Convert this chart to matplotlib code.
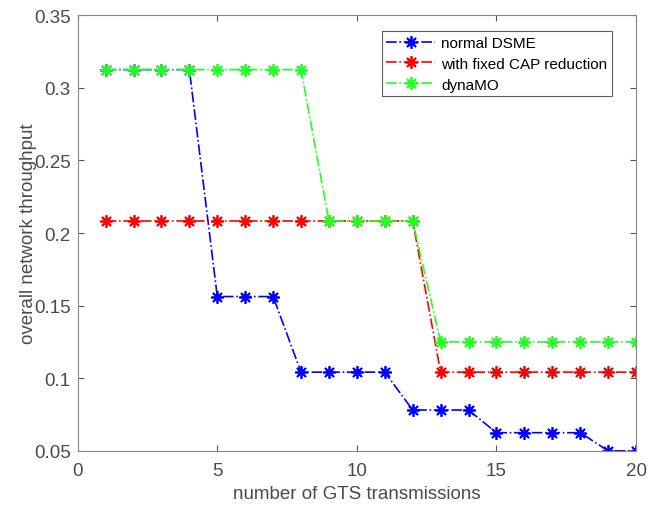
import numpy as np
import matplotlib
matplotlib.use('Agg')
import matplotlib.pyplot as plt

plt.rcParams['font.family'] = ['Liberation Sans', 'DejaVu Sans']

# 数据
gts = list(range(1, 21))
normal_dsme = [0.3125] * 4 + [0.15625] * 3 + [0.1042] * 4 + [0.078125] * 3 + [0.0625] * 4 + [0.05] * 2
fixed_cap = [0.2083] * 12 + [0.1042] * 8
dynamo = [0.3125] * 8 + [0.2083] * 4 + [0.125] * 8

series_names = ['normal DSME', 'with fixed CAP reduction', 'dynaMO']
series_colors = ['#0000ff', '#ff0000', '#22ff22']

fig = plt.figure(figsize=(6.53, 5.06), dpi=100)
ax = fig.add_axes([0.119, 0.107, 0.855, 0.861])

for vals, name, c in zip([normal_dsme, fixed_cap, dynamo], series_names, series_colors):
    ax.plot(gts, vals, linestyle='-.', color=c, marker=(8, 2, 0), markersize=9,
            markeredgewidth=1.3, linewidth=1.2, label=name)

ax.set_xlim(0, 20)
ax.set_ylim(0.05, 0.35)
ax.set_xticks([0, 5, 10, 15, 20])
ax.set_yticks([0.05, 0.1, 0.15, 0.2, 0.25, 0.3, 0.35])
ax.set_yticklabels(['0.05', '0.1', '0.15', '0.2', '0.25', '0.3', '0.35'])
ax.tick_params(direction='in', top=True, right=True, labelsize=13.5,
               colors='#555555', labelcolor='#4a4a4a', length=4, pad=5)
ax.tick_params(axis='x', pad=8)
for s in ax.spines.values():
    s.set_color('#888888')
    s.set_linewidth(0.8)

ax.set_xlabel('number of GTS transmissions', fontsize=13.5, color='#4a4a4a', labelpad=4)
ax.set_ylabel('overall network throughput', fontsize=13.5, color='#4a4a4a', labelpad=-2)

leg = ax.legend(loc='upper right', bbox_to_anchor=(0.957, 0.963), fontsize=11,
                frameon=True, fancybox=False, edgecolor='#333333',
                handlelength=3.2, handletextpad=0.4, borderpad=0.3, labelspacing=0.45,
                borderaxespad=0)
leg.get_frame().set_linewidth(0.8)

plt.savefig('out.png', dpi=100)
plt.close()
